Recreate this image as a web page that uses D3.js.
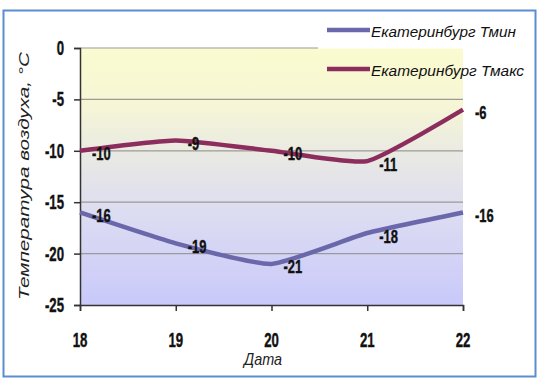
<!DOCTYPE html>
<html><head><meta charset="utf-8">
<script src="https://cdn.jsdelivr.net/npm/d3@7"></script>
<style>body{margin:0;background:#fff}svg{display:block}</style>
</head><body>
<svg id="c" width="545" height="387"></svg>
<script>
const dates = [18, 19, 20, 21, 22];
const tmin = [-16, -19, -21, -18, -16];
const tmax = [-10, -9, -10, -11, -6];
const yTicks = [0, -5, -10, -15, -20, -25];
const seriesNames = ["Екатеринбург Тмин", "Екатеринбург Тмакс"];
const seriesColors = ["#6a68aa", "#8c2d5d"];
const yTitle = "Температура воздуха, °C";
const xTitle = "Дата";

const svg = d3.select("#c");
const L = 80, R = 463, T = 48, B = 305;
const x = d3.scaleLinear().domain([18, 22]).range([L, R]);
const y = d3.scaleLinear().domain([-25, 0]).range([B, T]);
const F = "'Liberation Sans', Arial, sans-serif";

// gradient
const defs = svg.append("defs");
const g = defs.append("linearGradient").attr("id", "bg").attr("x1", 0).attr("y1", 0).attr("x2", 0).attr("y2", 1);
g.append("stop").attr("offset", "0%").attr("stop-color", "#fbfbd0");
g.append("stop").attr("offset", "22%").attr("stop-color", "#f6f6d6");
g.append("stop").attr("offset", "45%").attr("stop-color", "#e7e7e6");
g.append("stop").attr("offset", "65%").attr("stop-color", "#dcdcf2");
g.append("stop").attr("offset", "100%").attr("stop-color", "#c9c9fb");

// outer border
svg.append("rect").attr("x", 3.5).attr("y", 10.5).attr("width", 532).attr("height", 366)
  .attr("fill", "#fff").attr("stroke", "#5a8ed0").attr("stroke-width", 2);

// plot bg
svg.append("rect").attr("x", L).attr("y", T).attr("width", R - L).attr("height", B - T).attr("fill", "url(#bg)");

// grid
svg.append("g").selectAll("line").data(yTicks.filter(d => d !== -25)).join("line")
  .attr("x1", L).attr("x2", d => d === 0 ? 318 : R)
  .attr("y1", d => y(d)).attr("y2", d => y(d))
  .attr("stroke", "#9a9a9a").attr("stroke-width", 1.2);

// axes
const yAxis = svg.append("g").attr("transform", `translate(${L},0)`)
  .call(d3.axisLeft(y).tickValues(yTicks).tickSize(6).tickFormat(""));
const xAxis = svg.append("g").attr("transform", `translate(0,${B})`)
  .call(d3.axisBottom(x).tickValues(dates).tickSize(6).tickFormat(""));
[yAxis, xAxis].forEach(a => {
  a.select(".domain").attr("stroke", "#333").attr("stroke-width", 1.5);
  a.selectAll(".tick line").attr("stroke", "#333").attr("stroke-width", 1.5);
});

function sText(parent, tx, ty, txt, size, sx, anchor, weight, style) {
  return parent.append("text").attr("transform", `translate(${tx},${ty}) scale(${sx},1)`)
    .attr("text-anchor", anchor).attr("font-family", F).attr("font-size", size)
    .attr("font-weight", weight || "bold").attr("font-style", style || "normal")
    .attr("fill", "#111").attr("stroke", "#111").attr("stroke-width", weight === "normal" ? 0 : 0.4)
    .text(txt);
}

// tick labels
yTicks.forEach(v => sText(svg, 64, y(v) + 7, String(v), 20, 0.66, "end"));
dates.forEach(d => sText(svg, x(d), 347, String(d), 20, 0.66, "middle"));

// titles
svg.append("text").attr("transform", `translate(29,176) rotate(-90)`)
  .attr("text-anchor", "middle").attr("font-family", F).attr("font-size", 15)
  .attr("font-style", "italic").attr("fill", "#222")
  .attr("textLength", 248).attr("lengthAdjust", "spacingAndGlyphs").text(yTitle);
sText(svg, 263, 365, xTitle, 16, 0.9, "middle", "normal", "italic").attr("fill", "#222");

// lines
const line = d3.line().x((d, i) => x(dates[i])).y(d => y(d)).curve(d3.curveCardinal.tension(0.5));
[tmin, tmax].forEach((s, k) => {
  svg.append("path").datum(s).attr("d", line).attr("fill", "none")
    .attr("stroke", seriesColors[k]).attr("stroke-width", 4.5).attr("stroke-linejoin", "round");
});
[tmin, tmax].forEach(s => {
  s.forEach((v, i) => sText(svg, x(dates[i]) + 12, y(v) + 9.5, String(v), 18, 0.72, "start"));
});

// legend
svg.append("rect").attr("x", 318).attr("y", 12).attr("width", 216).attr("height", 36.5).attr("fill", "#fff");
const legY = [30, 69], legTextW = [145, 153];
seriesNames.forEach((n, k) => {
  svg.append("line").attr("x1", 327).attr("x2", 370).attr("y1", legY[k]).attr("y2", legY[k])
    .attr("stroke", seriesColors[k]).attr("stroke-width", 4.5);
  svg.append("text").attr("x", 371).attr("y", legY[k] + 6.5)
    .attr("font-family", F).attr("font-size", 15).attr("font-style", "italic").attr("fill", "#111")
    .attr("textLength", legTextW[k]).attr("lengthAdjust", "spacingAndGlyphs").text(n);
});
</script>
</body></html>
